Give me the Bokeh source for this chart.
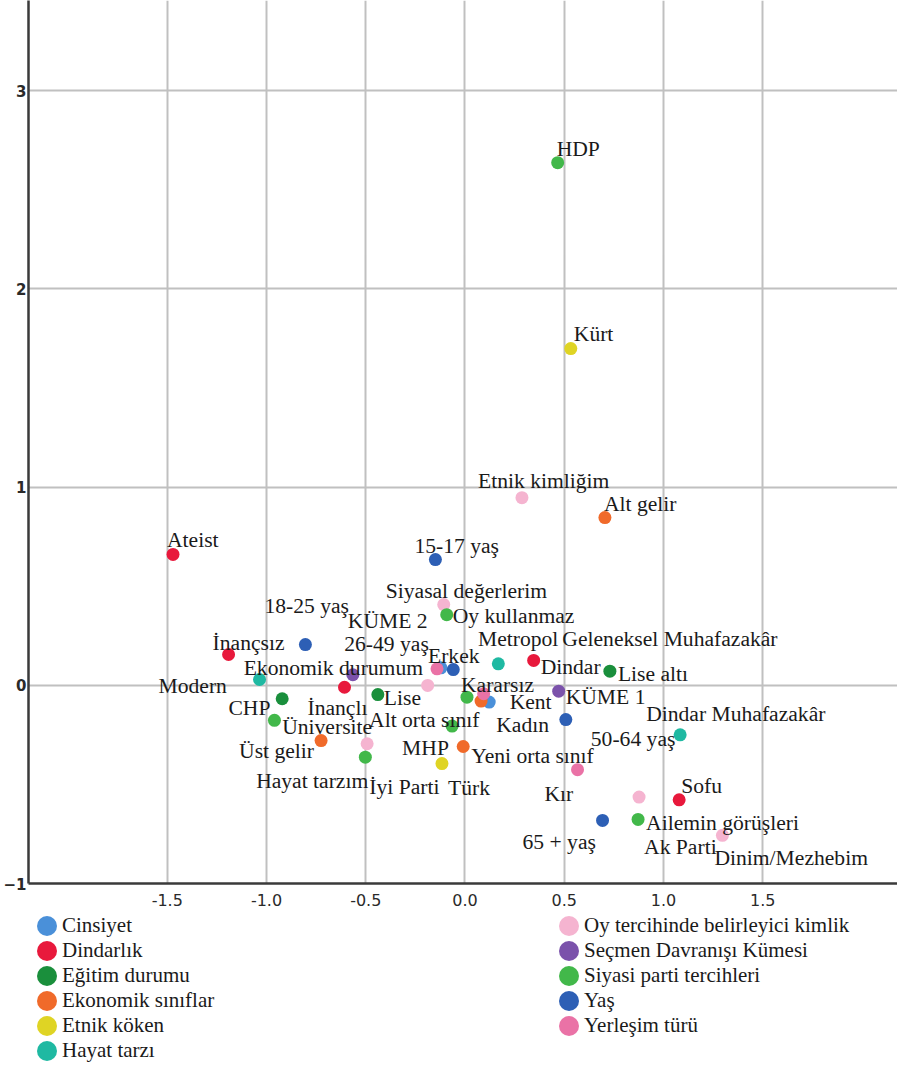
import numpy as np
from bokeh.plotting import figure
from bokeh.layouts import column
from bokeh.models import ColumnDataSource, FixedTicker, PrintfTickFormatter, Legend, LegendItem
from bokeh.core.properties import value
from bokeh.embed import file_html
from bokeh.resources import INLINE

# ---- data ----
groups = ["Cinsiyet", "Dindarlık", "Eğitim durumu", "Ekonomik sınıflar", "Etnik köken",
          "Hayat tarzı", "Oy tercihinde belirleyici kimlik", "Seçmen Davranışı Kümesi",
          "Siyasi parti tercihleri", "Yaş", "Yerleşim türü"]

point_names = ["Erkek", "Kadın",
               "Ateist", "İnançsız", "İnançlı", "Dindar", "Sofu",
               "Üniversite", "Lise", "Lise altı",
               "Üst gelir", "Yeni orta sınıf", "Alt orta sınıf", "Alt gelir",
               "Türk", "Kürt",
               "Modern", "Geleneksel Muhafazakâr", "Dindar Muhafazakâr",
               "Etnik kimliğim", "Siyasal değerlerim", "Ekonomik durumum", "Hayat tarzım",
               "Ailemin görüşleri", "Dinim/Mezhebim",
               "KÜME 2", "KÜME 1",
               "HDP", "Oy kullanmaz", "CHP", "İyi Parti", "MHP", "Kararsız", "Ak Parti",
               "15-17 yaş", "18-25 yaş", "26-49 yaş", "50-64 yaş", "65 + yaş",
               "Metropol", "Kent", "Kır"]

point_groups = ["Cinsiyet"] * 2 + ["Dindarlık"] * 5 + ["Eğitim durumu"] * 3 + \
               ["Ekonomik sınıflar"] * 4 + ["Etnik köken"] * 2 + ["Hayat tarzı"] * 3 + \
               ["Oy tercihinde belirleyici kimlik"] * 6 + ["Seçmen Davranışı Kümesi"] * 2 + \
               ["Siyasi parti tercihleri"] * 7 + ["Yaş"] * 5 + ["Yerleşim türü"] * 3

dim1 = [-0.121, 0.122,
        -1.471, -1.191, -0.607, 0.346, 1.079,
        -0.921, -0.439, 0.730,
        -0.725, -0.009, 0.081, 0.705,
        -0.116, 0.533,
        -1.035, 0.168, 1.084,
        0.287, -0.107, -0.188, -0.493, 0.877, 1.297,
        -0.565, 0.472,
        0.467, -0.092, -0.960, -0.502, -0.065, 0.010, 0.872,
        -0.149, -0.804, -0.059, 0.508, 0.693,
        -0.141, 0.094, 0.567]

dim2 = [0.088, -0.085,
        0.660, 0.155, -0.010, 0.125, -0.578,
        -0.068, -0.047, 0.071,
        -0.279, -0.309, -0.080, 0.846,
        -0.395, 1.698,
        0.029, 0.108, -0.250,
        0.946, 0.407, -0.001, -0.295, -0.564, -0.757,
        0.053, -0.030,
        2.636, 0.356, -0.177, -0.363, -0.206, -0.060, -0.677,
        0.634, 0.205, 0.079, -0.173, -0.682,
        0.083, -0.043, -0.426]

x_ticks = [-1.5, -1.0, -0.5, 0.0, 0.5, 1.0, 1.5]
y_ticks = [-1, 0, 1, 2, 3]

# ---- styling / layout ----
group_colors = {
    "Cinsiyet": "#4a90d9", "Dindarlık": "#e8193c", "Eğitim durumu": "#1a8f3c",
    "Ekonomik sınıflar": "#f06a2a", "Etnik köken": "#dfd424", "Hayat tarzı": "#1fb9a2",
    "Oy tercihinde belirleyici kimlik": "#f5b4d0", "Seçmen Davranışı Kümesi": "#7b52ab",
    "Siyasi parti tercihleri": "#42b84a", "Yaş": "#2d5fb5", "Yerleşim türü": "#ea72a6",
}

# label offsets in screen pixels (left edge / baseline relative to the marker)
label_offsets = {
    "Erkek": (-13, -12), "Kadın": (7, 23),
    "Ateist": (-6, -14), "İnançsız": (-16, -12), "İnançlı": (-37, 21), "Dindar": (7, 7), "Sofu": (2, -14),
    "Üniversite": (0, 28), "Lise": (6, 3), "Lise altı": (8, 3),
    "Üst gelir": (-82, 10), "Yeni orta sınıf": (8, 9), "Alt orta sınıf": (-112, 19), "Alt gelir": (-1, -14),
    "Türk": (6, 24), "Kürt": (3, -15),
    "Modern": (-101, 6), "Geleneksel Muhafazakâr": (64, -25), "Dindar Muhafazakâr": (-34, -21),
    "Etnik kimliğim": (-44, -17), "Siyasal değerlerim": (-58, -14), "Ekonomik durumum": (-184, -17),
    "Hayat tarzım": (-111, 37), "Ailemin görüşleri": (7, 26), "Dinim/Mezhebim": (-8, 23),
    "KÜME 2": (-5, -54), "KÜME 1": (7, 6),
    "HDP": (-1, -14), "Oy kullanmaz": (6, 1), "CHP": (-46, -12), "İyi Parti": (4, 30),
    "MHP": (-50, 22), "Kararsız": (-6, -12), "Ak Parti": (6, 28),
    "15-17 yaş": (-21, -14), "18-25 yaş": (-41, -39), "26-49 yaş": (-109, -26),
    "50-64 yaş": (25, 19), "65 + yaş": (-80, 22),
    "Metropol": (41, -30), "Kent": (26, 8), "Kır": (-33, 24),
}

src = ColumnDataSource(dict(
    x=dim1, y=dim2, name=point_names, group=point_groups,
    color=[group_colors[g] for g in point_groups],
    dx=[label_offsets[n][0] for n in point_names],
    dy=[label_offsets[n][1] for n in point_names],
))

W = 897
p = figure(width=W, height=912, x_range=(-2.199, 2.179), y_range=(-1, 3.454),
           output_backend="svg", toolbar_location=None,
           min_border_left=0, min_border_right=0, min_border_top=0, min_border_bottom=29)
p.outline_line_color = None
p.background_fill_color = "white"

p.xaxis.ticker = FixedTicker(ticks=x_ticks)
p.yaxis.ticker = FixedTicker(ticks=y_ticks)
p.xaxis.formatter = PrintfTickFormatter(format="%.1f")

for ax in (p.xaxis, p.yaxis):
    ax.axis_line_color = "#3a3a3a"
    ax.axis_line_width = 2.5
    ax.major_tick_line_color = None
    ax.minor_tick_line_color = None
    ax.major_tick_out = 0
    ax.major_tick_in = 0
    ax.major_label_text_color = "#2a2a2a"
    ax.major_label_text_font = "DejaVu Sans"

p.xaxis.major_label_text_font_size = "16px"
p.xaxis.major_label_standoff = 10
p.yaxis.major_label_text_font_size = "15px"
p.yaxis.major_label_text_font_style = "bold"
p.yaxis.major_label_standoff = 2

p.xgrid.grid_line_color = "#c0c0c0"
p.ygrid.grid_line_color = "#c0c0c0"
p.xgrid.grid_line_width = 2
p.ygrid.grid_line_width = 2

p.scatter("x", "y", source=src, size=13, fill_color="color", line_color=None, marker="circle")
p.text("x", "y", text="name", source=src, x_offset="dx", y_offset="dy",
       text_font=value("Liberation Serif"), text_font_size="21.6px",
       text_baseline="alphabetic", text_align="left", text_color="#1a1a1a")

# ---- legend panel ----
lf = figure(width=W, height=152, x_range=(0, 1), y_range=(0, 1),
            x_axis_type=None, y_axis_type=None, output_backend="svg", toolbar_location=None,
            min_border_left=0, min_border_right=0, min_border_top=0, min_border_bottom=0)
lf.outline_line_color = None
lf.xgrid.visible = False
lf.ygrid.visible = False

# legend-only swatches (no visible data); ellipse legend glyphs render as discs
swatches = {g: lf.ellipse(x=np.array([np.nan]), y=np.array([np.nan]), width=20, height=20,
                          width_units="screen", height_units="screen",
                          fill_color=group_colors[g], line_color=None)
            for g in groups}

def make_legend(names, loc):
    lg = Legend(items=[LegendItem(label=n, renderers=[swatches[n]]) for n in names],
                location=loc, orientation="vertical")
    lg.glyph_width = 25
    lg.glyph_height = 25
    lg.label_height = 25
    lg.label_standoff = 3
    lg.spacing = 0
    lg.padding = 0
    lg.margin = 0
    lg.border_line_color = None
    lg.background_fill_alpha = 0
    lg.label_text_font = "Liberation Serif"
    lg.label_text_font_size = "21px"
    lg.label_text_color = "#1a1a1a"
    return lg

lf.add_layout(make_legend(groups[:6], (6, 1)))
lf.add_layout(make_legend(groups[6:], (528, 26)))

layout = column(p, lf, spacing=0)
open("out.html", "w").write(file_html(layout, INLINE))
